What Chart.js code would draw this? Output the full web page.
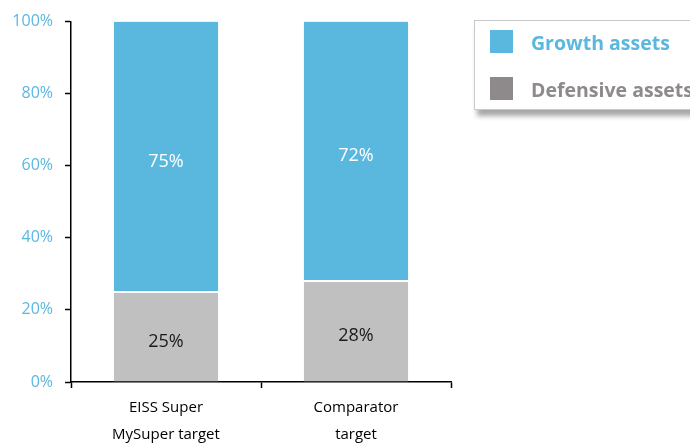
<!DOCTYPE html>
<html>
<head>
<meta charset="utf-8">
<script src="https://cdn.jsdelivr.net/npm/chart.js@4/dist/chart.umd.min.js"></script>
<style>
  html, body { margin: 0; padding: 0; background: #fff; overflow: hidden; }
  #wrap { position: relative; width: 690px; height: 443px; }
  canvas { position: absolute; left: 0; top: 0; }
  #legend {
    position: absolute; left: 474px; top: 20px; width: 240px; height: 88px;
    border: 1px solid #c9c9c9; background: #fff;
    box-shadow: 3px 6px 5px rgba(0,0,0,0.35);
    font-family: "Open Sans", sans-serif; font-weight: bold; font-size: 19.5px;
  }
  .item { position: absolute; left: 15px; height: 23px; line-height: 23px; white-space: nowrap; }
  .sw { position: absolute; left: 0; top: 0; width: 23px; height: 23px; }
  .lbl { position: absolute; left: 41px; top: 1px; }
</style>
</head>
<body>
<div id="wrap">
  <canvas id="c" width="690" height="443"></canvas>
  <div id="legend"></div>
</div>
<script>
const categories = [["EISS Super", "MySuper target"], ["Comparator", "target"]];
const defensive = [25, 28];
const growth = [75, 72];
const yTicks = [0, 20, 40, 60, 80, 100];
const seriesNames = ["Growth assets", "Defensive assets"];

const BLUE = "#5ab8df";
const GRAY = "#c0c0c0";
const LEGEND_GRAY = "#8e8a8c";

// HTML legend
const legend = document.getElementById("legend");
[[seriesNames[0], BLUE, BLUE, 9], [seriesNames[1], LEGEND_GRAY, LEGEND_GRAY, 56]].forEach(([t, sw, col, top]) => {
  const d = document.createElement("div");
  d.className = "item";
  d.style.top = top + "px";
  d.innerHTML = '<div class="sw" style="background:' + sw + '"></div><div class="lbl" style="color:' + col + '">' + t + '</div>';
  legend.appendChild(d);
});

const labelPlugin = {
  id: "segLabels",
  afterDatasetsDraw(chart) {
    const ctx = chart.ctx;
    ctx.save();
    ctx.font = "18px 'Open Sans', sans-serif";
    ctx.textAlign = "center";
    ctx.textBaseline = "middle";
    chart.data.datasets.forEach((ds, di) => {
      const meta = chart.getDatasetMeta(di);
      meta.data.forEach((bar, i) => {
        const cy = (bar.y + bar.base) / 2 + 5;
        ctx.fillStyle = di === 0 ? "#1a1a1a" : "#ffffff";
        ctx.fillText(ds.data[i] + "%", bar.x, cy);
      });
    });
    ctx.restore();
  }
};

new Chart(document.getElementById("c"), {
  type: "bar",
  data: {
    labels: categories,
    datasets: [
      { label: seriesNames[1], data: defensive, backgroundColor: GRAY, borderColor: "#ffffff",
        borderWidth: { top: 1, bottom: 0, left: 0, right: 0 }, borderSkipped: false,
        categoryPercentage: 1, barPercentage: 0.55 },
      { label: seriesNames[0], data: growth, backgroundColor: BLUE, borderColor: "#ffffff",
        borderWidth: { top: 0, bottom: 1, left: 0, right: 0 }, borderSkipped: false,
        categoryPercentage: 1, barPercentage: 0.55 }
    ]
  },
  options: {
    responsive: false,
    animation: false,
    devicePixelRatio: 1,
    layout: { padding: { left: 0, right: 239, top: 20, bottom: 0 } },
    plugins: { legend: { display: false }, tooltip: { enabled: false } },
    scales: {
      x: {
        stacked: true,
        offset: true,
        grid: { offset: true, drawOnChartArea: false, drawTicks: true, tickLength: 6, color: "#000", tickWidth: 1.5 },
        border: { color: "#000", width: 1.5 },
        ticks: {
          color: "#000",
          font: { family: "'Open Sans', sans-serif", size: 15, lineHeight: 1.75 },
          padding: 7,
          maxRotation: 0
        },
        afterFit(s) { s.height = 61; }
      },
      y: {
        stacked: true,
        min: 0, max: 100,
        afterBuildTicks(s) { s.ticks = yTicks.map(v => ({ value: v })); },
        grid: { drawOnChartArea: false, drawTicks: true, tickLength: 6, color: "#000", tickWidth: 1.5 },
        border: { color: "#000", width: 1.5 },
        ticks: {
          color: BLUE,
          font: { family: "'Open Sans', sans-serif", size: 16 },
          padding: 12,
          callback: v => v + "%"
        },
        afterFit(s) { s.width = 71; }
      }
    }
  },
  plugins: [labelPlugin]
});
</script>
</body>
</html>
